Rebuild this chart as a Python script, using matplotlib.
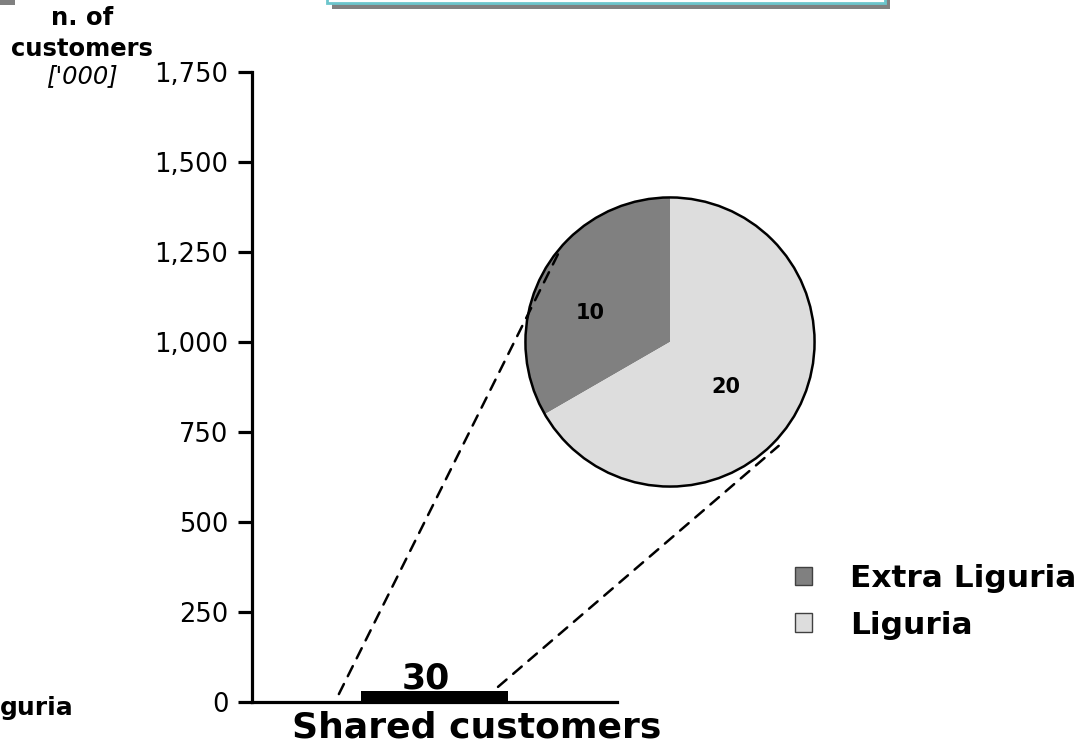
import numpy as np
import matplotlib.pyplot as plt
from matplotlib.patches import Rectangle, Circle, Patch
from matplotlib.patches import ConnectionPatch

# data
category = "Shared customers"
total = 30
split_labels = ["Extra Liguria", "Liguria"]
split_values = [10, 20]
split_colors = ["#808080", "#DDDDDD"]
yticks = [0, 250, 500, 750, 1000, 1250, 1500, 1750]

W, H = 1081, 749
plt.rcParams['font.family'] = ['DejaVu Sans']

fig = plt.figure(figsize=(W / 100, H / 100), dpi=100)

def fx(px):
    return px / W

def fy(py):
    return 1 - py / H

# main axis (bar of totals)
ax = fig.add_axes([fx(252), fy(702), fx(617) - fx(252), fy(72) - fy(702)])
ax.bar([0], [total], width=0.403, color="black", zorder=3)
ax.set_xlim(-0.5, 0.5)
ax.set_ylim(0, 1750)
ax.set_yticks(yticks)
ax.set_yticklabels([f"{v:,}" for v in yticks], fontsize=18.5)
ax.set_xticks([])
for s in ["top", "right"]:
    ax.spines[s].set_visible(False)
for s in ["left", "bottom"]:
    ax.spines[s].set_linewidth(2.3)
ax.tick_params(axis="y", direction="out", length=10, width=2.3, pad=7)
ax.text(-0.025, total + 8, str(total), ha="center", va="baseline", fontsize=25,
        fontweight="bold")

# pie with the split
pax = fig.add_axes([fx(524), fy(488), fx(816) - fx(524), fy(196) - fy(488)])
wedges, texts = pax.pie(split_values, colors=split_colors, startangle=90,
                        counterclock=True, labels=[str(v) for v in split_values],
                        textprops=dict(fontsize=15, fontweight="bold",
                                       ha="center", va="center"))
# label spots (angle, distance from centre)
for t, (ang, d) in zip(texts, [(160, 0.585), (-39, 0.5)]):
    a = np.deg2rad(ang)
    t.set_position((d * np.cos(a), d * np.sin(a)))
    t.set_ha("center")
pax.add_patch(Circle((0, 0), 1, fill=False, edgecolor="black", lw=1.8))
pax.set_xlim(-1.01, 1.01)
pax.set_ylim(-1.01, 1.01)

# dashed connectors from bar to pie
def edge(angle, r):
    a = np.deg2rad(angle)
    return (r * np.cos(a), r * np.sin(a))

for start, ang, r in [((-0.262, 22), 141.8, 0.985), ((0.174, 42), -43.7, 1.04)]:
    con = ConnectionPatch(xyA=start, coordsA=ax.transData,
                          xyB=edge(ang, r), coordsB=pax.transData,
                          linestyle=(0, (4.5, 3.5)), lw=1.8, color="black",
                          zorder=10)
    fig.add_artist(con)

# axis titles
fig.text(fx(82), fy(18), "n. of", ha="center", va="center", fontsize=17.5,
         fontweight="bold")
fig.text(fx(82), fy(49), "customers", ha="center", va="center", fontsize=17.5,
         fontweight="bold")
fig.text(fx(118), fy(76), "['000]", ha="right", va="center", fontsize=17.5,
         style="italic")
fig.text(fx(477), fy(728), category, ha="center", va="center", fontsize=26,
         fontweight="bold")
# leftover of a label that runs off the left edge in the original
fig.text(fx(74), fy(708), "guria", ha="right", va="center", fontsize=18,
         fontweight="bold")

# legend
handles = [Patch(facecolor=c, edgecolor="#404040", lw=1) for c in split_colors]
fig.legend(handles, split_labels, loc="upper left",
           bbox_to_anchor=(fx(795), fy(564)), frameon=False,
           prop=dict(size=22.5, weight="bold"), handlelength=0.55,
           handleheight=0.55, handletextpad=1.2, labelspacing=0.56,
           borderpad=0, borderaxespad=0)

# bits of the slide frame cut at the top
fig.add_artist(Rectangle((fx(332), fy(9)), fx(890) - fx(332), fy(0) - fy(9) + 0.05,
                         transform=fig.transFigure, facecolor="#808080",
                         edgecolor="none"))
fig.add_artist(Rectangle((fx(327), fy(3)), fx(885) - fx(327), 0.05,
                         transform=fig.transFigure, facecolor="white",
                         edgecolor="#6CC5CC", lw=2))
fig.add_artist(Rectangle((0, fy(5)), fx(15), 0.05, transform=fig.transFigure,
                         facecolor="#808080", edgecolor="none"))

fig.savefig("out.png", dpi=100)
